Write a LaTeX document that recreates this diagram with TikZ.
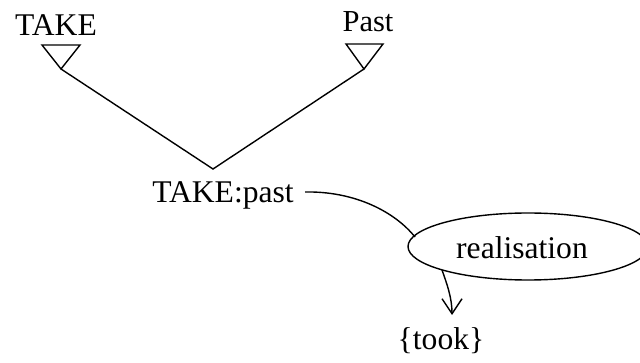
\documentclass[tikz,border=0pt]{standalone}
\usepackage{fontspec}
\setmainfont{Liberation Serif}
\usetikzlibrary{arrows.meta,shapes.geometric}
\begin{document}
\begin{tikzpicture}[x=1pt,y=-1pt,
  lbl/.style={inner sep=0pt,anchor=base,font=\fontsize{31.6}{36}\selectfont},
  link/.style={line width=1.4pt,line join=miter},
  tri/.style={line width=1.4pt,line join=miter}]
\useasboundingbox (0,0) rectangle (640,363);
\clip (0,0) rectangle (640,363);

% feature labels and their triangles
\node[lbl] (take) at (56,36) {TAKE};
\node[lbl,font=\fontsize{30.5}{36}\selectfont] (past) at (368,32) {Past};
\coordinate (takeTip) at (61,69);
\coordinate (pastTip) at (364,69);
\draw[tri] (42,45) -- (80,45) -- (takeTip) -- cycle;
\draw[tri] (346,44) -- (383,44) -- (pastTip) -- cycle;

% join of the two features
\coordinate (join) at (213,169);
\draw[link] (takeTip) -- (join) -- (pastTip);

\node[lbl] (tp) at (223,203) {TAKE:past};

% realisation relation
\node[draw,line width=1.4pt,ellipse,minimum width=240pt,minimum height=67pt,inner sep=0pt] (real) at (528,246.5) {};
\node[lbl] (reallbl) at (522,259) {realisation};
\node[lbl] (took) at (441,349) {\{took\}};

\coordinate (tpout) at (305,192);
\coordinate (realin) at (415,237);
\coordinate (realout) at (442,270);
\coordinate (tookin) at (452,315);
\draw[link] (tpout) .. controls (355,191) and (395,212) .. (realin);
\draw[link,-{Straight Barb[length=15pt,width=20pt,line width=1.4pt]}] (realout) .. controls (447,284) and (452,298) .. (tookin);
\end{tikzpicture}
\end{document}
